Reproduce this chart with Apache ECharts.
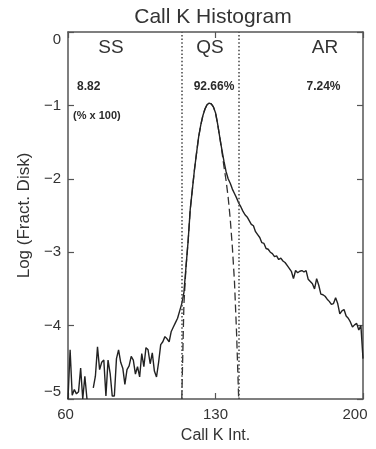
<!DOCTYPE html>
<html>
<head>
<meta charset="utf-8">
<script src="https://cdn.jsdelivr.net/npm/echarts@6/dist/echarts.min.js"></script>
<style>
  html, body { margin: 0; padding: 0; background: #fff; }
  #chart { width: 376px; height: 449px; }
</style>
</head>
<body>
<div id="chart"></div>
<script>
// Call K intensity bins (x) and log fraction of disk (solid histogram)
var kBins = [60,61,62,63,64,65,66,67,68,69,70,71,72,73,74,75,76,77,78,79,
  80,81,82,83,84,85,86,87,88,89,90,91,92,93,94,95,96,97,98,99,
  100,101,102,103,104,105,106,107,108,109,110,111,112,113,114,115,116,117,118,119,
  120,121,122,123,124,125,126,127,128,129,130,131,132,133,134,135,136,137,138,139,
  140,141,142,143,144,145,146,147,148,149,150,151,152,153,154,155,156,157,158,159,
  160,161,162,163,164,165,166,167,168,169,170,171,172,173,174,175,176,177,178,179,
  180,181,182,183,184,185,186,187,188,189,190,191,192,193,194,195,196,197,198,199,200];
var logFract = [-5,-4.33,-4.95,-4.87,-4.93,-4.9,-4.58,-5,-4.69,-5,null,null,-4.85,-4.69,-4.29,-4.6,-4.5,-4.47,-4.96,-4.47,
  -4.65,-4.96,-4.96,-4.45,-4.33,-4.5,-4.58,-4.8,-4.6,-4.55,-4.42,-4.47,-4.66,-4.56,-4.7,-4.38,-4.56,-4.3,-4.33,-4.52,
  -4.37,-4.62,-4.7,-4.5,-4.26,-4.22,-4.15,-4.18,-4.22,-4.08,-4.02,-3.96,-3.9,-3.8,-3.7,-3.55,-3.2,-2.85,-2.42,-2.15,
  -1.88,-1.65,-1.43,-1.27,-1.14,-1.05,-0.99,-0.97,-0.98,-1.02,-1.1,-1.25,-1.43,-1.6,-1.76,-1.9,-2.0,-2.06,-2.14,-2.2,
  -2.26,-2.33,-2.38,-2.44,-2.49,-2.52,-2.57,-2.62,-2.64,-2.72,-2.76,-2.8,-2.87,-2.88,-2.95,-2.96,-3.0,-3.02,-3.06,-3.05,
  -3.1,-3.08,-3.12,-3.14,-3.18,-3.22,-3.26,-3.36,-3.25,-3.28,-3.26,-3.25,-3.27,-3.25,-3.37,-3.4,-3.43,-3.5,-3.36,-3.45,
  -3.57,-3.58,-3.6,-3.64,-3.67,-3.71,-3.7,-3.62,-3.7,-3.84,-3.8,-3.78,-3.87,-3.9,-3.95,-4.02,-3.99,-3.97,-4.06,-4.0,-4.45];
// Quiet-Sun fit (dashed)
var fitBins = [114,115,116,117,118,119,120,121,122,123,124,125,126,127,128,129,130,131,132,133,134,135,136,137,138,139,140,141];
var fitLog = [-5,-3.72,-3.2,-2.85,-2.42,-2.15,-1.88,-1.65,-1.43,-1.27,-1.14,-1.05,-0.99,-0.97,-0.98,-1.02,-1.1,-1.25,-1.43,-1.62,-1.83,-2.02,-2.25,-2.55,-2.93,-3.4,-4.1,-5];
// Region boundaries (dotted)
var dividers = [114, 141];
// Region labels and percentages
var regionNames = ['SS', 'QS', 'AR'];
var regionPct = ['8.82', '92.66%', '7.24%'];
var xTicks = [60, 130, 200];
var yTicks = [0, -1, -2, -3, -4, -5];

var solidData = kBins.map(function (k, i) { return [k, logFract[i]]; });
var fitData = fitBins.map(function (k, i) { return [k, fitLog[i]]; });

var chart = echarts.init(document.getElementById('chart'), null, { renderer: 'canvas' });
var FONT = '"Liberation Sans", Arial, sans-serif';
var TXT = '#333';
var AX = '#555';

function axisBase(pos) {
  return {
    axisLine: { show: true, onZero: false, lineStyle: { color: AX, width: 1.5 } },
    axisTick: { show: true, inside: true, length: 6, lineStyle: { color: AX, width: 1.2 } },
    splitLine: { show: false }
  };
}

var xb = axisBase();
var xt = axisBase();
var yl = axisBase();
var yr = axisBase();

var option = {
  animation: false,
  backgroundColor: '#fff',
  grid: { left: 68, right: 13, top: 32, bottom: 46, containLabel: false },
  xAxis: [
    Object.assign(xb, {
      type: 'value', position: 'bottom', min: xTicks[0], max: xTicks[2], interval: xTicks[1] - xTicks[0],
      name: 'Call K Int.', nameLocation: 'middle', nameGap: 29,
      nameTextStyle: { fontFamily: FONT, fontSize: 16, color: TXT },
      axisLabel: {
        fontFamily: FONT, fontSize: 15, color: TXT, margin: 8,
        formatter: function (v) { return v === 200 ? '{r|' + v + '}' : (v === 60 ? '{l|' + v + '}' : '{c|' + v + '}'); },
        rich: {
          r: { fontFamily: FONT, fontSize: 15, color: TXT, padding: [0, 16, 0, 0] },
          l: { fontFamily: FONT, fontSize: 15, color: TXT, padding: [0, 5, 0, 0] },
          c: { fontFamily: FONT, fontSize: 15, color: TXT }
        }
      }
    }),
    Object.assign(xt, {
      type: 'value', position: 'top', min: xTicks[0], max: xTicks[2], interval: xTicks[1] - xTicks[0],
      axisLabel: { show: false }
    })
  ],
  yAxis: [
    Object.assign(yl, {
      type: 'value', position: 'left', min: yTicks[5], max: yTicks[0], interval: 1,
      name: 'Log (Fract. Disk)', nameLocation: 'middle', nameGap: 35,
      nameTextStyle: { fontFamily: FONT, fontSize: 17, color: TXT },
      axisLabel: {
        fontFamily: FONT, fontSize: 15, color: TXT, margin: 7,
        verticalAlignMinLabel: 'bottom', verticalAlignMaxLabel: 'top',
        formatter: function (v) { return v < 0 ? '\u2212' + Math.abs(v) : String(v); }
      }
    }),
    Object.assign(yr, {
      type: 'value', position: 'right', min: yTicks[5], max: yTicks[0], interval: 1,
      axisLabel: { show: false }
    })
  ],
  series: [
    {
      type: 'line', data: fitData, showSymbol: false, symbol: 'none', z: 2,
      lineStyle: { color: '#333', width: 1.3, type: [8, 4] },
      markLine: {
        silent: true, symbol: 'none', animation: false,
        label: { show: false },
        lineStyle: { color: '#444', width: 1.5, type: [1.5, 2.2] },
        data: dividers.map(function (d) { return { xAxis: d }; })
      }
    },
    {
      type: 'line', data: solidData, showSymbol: false, symbol: 'none', z: 3,
      connectNulls: false,
      lineStyle: { color: '#222', width: 1.4 }
    }
  ],
  graphic: [
    { type: 'text', left: 0, top: 0, style: {} }
  ]
};

chart.setOption(option);

// annotation text (positioned from data coordinates)
var g = [];
g.push({ type: 'text', x: 213, y: 17, style: { text: 'Call K Histogram', font: '21px ' + FONT, fill: TXT, textAlign: 'center', textVerticalAlign: 'middle' } });
var nameX = [111, 210, 325];
var pctX = [77, 214, 323.5];
for (var i = 0; i < 3; i++) {
  g.push({ type: 'text', x: nameX[i], y: 48, style: { text: regionNames[i], font: '19px ' + FONT, fill: TXT, textAlign: 'center', textVerticalAlign: 'middle' } });
  g.push({ type: 'text', x: pctX[i], y: 87, style: { text: regionPct[i], font: 'bold 12px ' + FONT, fill: '#2a2a2a', textAlign: i === 0 ? 'left' : 'center', textVerticalAlign: 'middle' } });
}
g.push({ type: 'text', x: 73, y: 116, style: { text: '(% x 100)', font: 'bold 11px ' + FONT, fill: '#2a2a2a', textAlign: 'left', textVerticalAlign: 'middle' } });
chart.setOption({ graphic: g }, { replaceMerge: ['graphic'] });
</script>
</body>
</html>
